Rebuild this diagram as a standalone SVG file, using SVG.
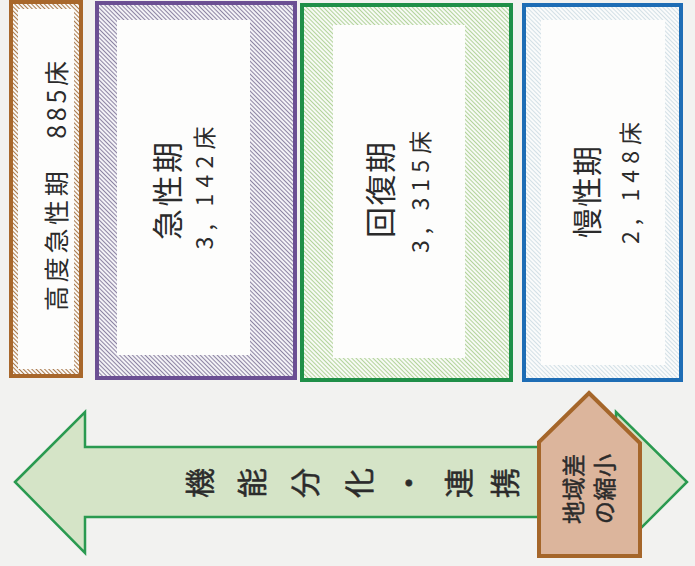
<svg xmlns="http://www.w3.org/2000/svg" width="695" height="566" viewBox="0 0 695 566">
  <defs>
    <pattern id="hatch-brown" width="3" height="3" patternUnits="userSpaceOnUse" patternTransform="rotate(45)">
      <rect width="3" height="3" fill="#ffffff"/>
      <line x1="0" y1="1.5" x2="3" y2="1.5" stroke="#a97a4c" stroke-width="1.1"/>
    </pattern>
    <pattern id="hatch-purple" width="3" height="3" patternUnits="userSpaceOnUse" patternTransform="rotate(45)">
      <rect width="3" height="3" fill="#ffffff"/>
      <line x1="0" y1="1.5" x2="3" y2="1.5" stroke="#8d84a3" stroke-width="1.2"/>
    </pattern>
    <pattern id="hatch-green" width="3" height="3" patternUnits="userSpaceOnUse" patternTransform="rotate(45)">
      <rect width="3" height="3" fill="#ffffff"/>
      <line x1="0" y1="1.5" x2="3" y2="1.5" stroke="#b2d39a" stroke-width="1.2"/>
    </pattern>
    <pattern id="hatch-blue" width="3" height="3" patternUnits="userSpaceOnUse" patternTransform="rotate(45)">
      <rect width="3" height="3" fill="#fafbfb"/>
      <line x1="0" y1="1.5" x2="3" y2="1.5" stroke="#d3e0e6" stroke-width="1"/>
    </pattern>
  </defs>
  <style>
    .lbl { font-family: "Noto Sans CJK JP", "Noto Sans", sans-serif; fill: #2b2b2b; text-anchor: middle; dominant-baseline: central; }
    .heavy { stroke: #2b2b2b; stroke-width: 0.5; }
    .inner { fill: #fdfdfc; }
  </style>
  <rect width="695" height="566" fill="#f2f2f0"/>

  <g id="node-kodo-kyuseiki">
    <rect x="11" y="2" width="70" height="374" fill="url(#hatch-brown)" stroke="#a8672b" stroke-width="4"/>
    <rect class="inner" x="18" y="9" width="56" height="360"/>
    <text class="lbl" font-size="25" textLength="250" lengthAdjust="spacing" transform="translate(55,186) rotate(-90)">高度急性期　885床</text>
  </g>

  <g id="node-kyuseiki">
    <rect x="97" y="3" width="198" height="375" fill="url(#hatch-purple)" stroke="#6b4f93" stroke-width="4"/>
    <rect class="inner" x="117" y="20" width="133" height="335"/>
    <text class="lbl" font-size="31" textLength="98" lengthAdjust="spacing" transform="translate(165,191) rotate(-90)">急性期</text>
    <text class="lbl" font-size="23" textLength="123" lengthAdjust="spacing" transform="translate(203,188) rotate(-90)">3, 142床</text>
  </g>

  <g id="node-kaifukuki">
    <rect x="302" y="5" width="209" height="375" fill="url(#hatch-green)" stroke="#1f8f48" stroke-width="4"/>
    <rect class="inner" x="333" y="25" width="132" height="333"/>
    <text class="lbl" font-size="31" textLength="96" lengthAdjust="spacing" transform="translate(378,190) rotate(-90)">回復期</text>
    <text class="lbl" font-size="23" textLength="122" lengthAdjust="spacing" transform="translate(419,192) rotate(-90)">3, 315床</text>
  </g>

  <g id="node-manseiki">
    <rect x="524" y="5" width="157" height="375" fill="url(#hatch-blue)" stroke="#1e6db5" stroke-width="4"/>
    <rect class="inner" x="541" y="20" width="124" height="345"/>
    <text class="lbl" font-size="30" textLength="92" lengthAdjust="spacing" transform="translate(585,192) rotate(-90)">慢性期</text>
    <text class="lbl" font-size="23" textLength="122" lengthAdjust="spacing" transform="translate(629,183) rotate(-90)">2, 148床</text>
  </g>

  <g id="connectors">
    <polygon id="arrow-kinou-bunka" points="15,482 85,412 85,447 616,447 616,412 687,482 616,553 616,517 85,517 85,553" fill="#d5e4c7" stroke="#2a9a50" stroke-width="2.5" stroke-linejoin="miter"/>
  </g>

  <g id="label-kinou-bunka">
    <text class="lbl heavy" font-size="30" transform="translate(198,483) rotate(-90)">機</text>
    <text class="lbl heavy" font-size="30" transform="translate(250,483) rotate(-90)">能</text>
    <text class="lbl heavy" font-size="30" transform="translate(303,483) rotate(-90)">分</text>
    <text class="lbl heavy" font-size="30" transform="translate(357,483) rotate(-90)">化</text>
    <text class="lbl heavy" font-size="30" transform="translate(407,483) rotate(-90)">・</text>
    <text class="lbl heavy" font-size="30" transform="translate(457,483) rotate(-90)">連</text>
    <text class="lbl heavy" font-size="30" transform="translate(503,483) rotate(-90)">携</text>
  </g>

  <g id="node-chiikisa">
    <polygon points="589,393 640,443 640,556 539,556 539,442" fill="#dcb59c" stroke="#a5662a" stroke-width="4" stroke-linejoin="miter"/>
    <text class="lbl heavy" font-size="23" textLength="70" lengthAdjust="spacing" transform="translate(572,489) rotate(-90)">地域差</text>
    <text class="lbl heavy" font-size="23" textLength="70" lengthAdjust="spacing" transform="translate(603,489) rotate(-90)">の縮小</text>
  </g>
</svg>
